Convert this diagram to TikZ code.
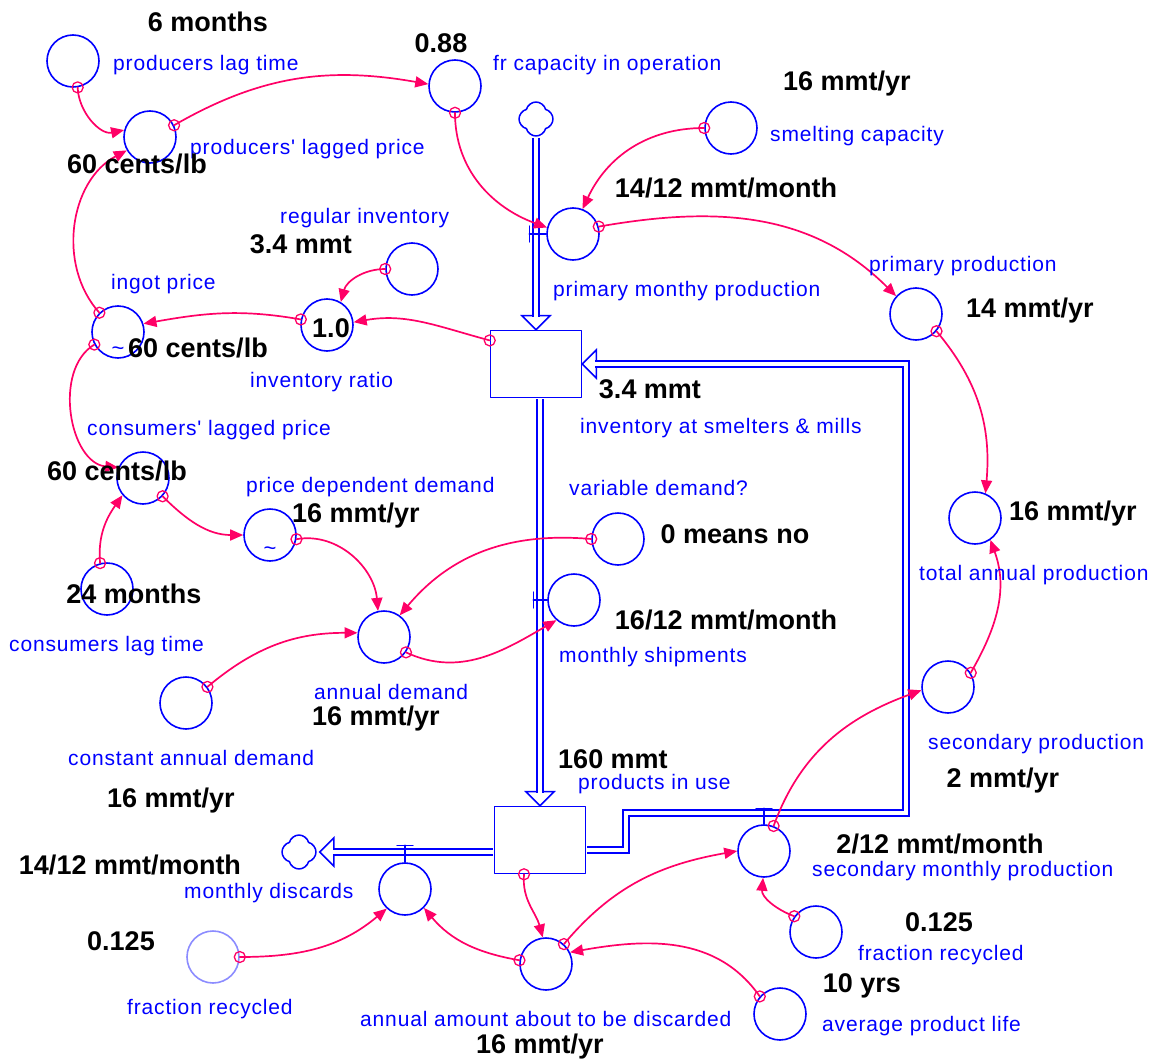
\documentclass[tikz,border=0pt]{standalone}
\usepackage{fontspec}
\setmainfont{Liberation Sans}
\newfontfamily\lblfam[LetterSpace=4]{Liberation Sans}
\usetikzlibrary{arrows.meta,calc,shapes.symbols}
\definecolor{vblue}{RGB}{0,0,255}
\definecolor{vpink}{RGB}{255,0,102}
\definecolor{vlav}{RGB}{140,140,255}

\begin{document}
\begin{tikzpicture}[x=1pt,y=1pt,line join=round,line cap=round,
	aux/.style={circle,draw=vblue,line width=1.6pt,minimum size=52pt,inner sep=0pt},
	lvl/.style={rectangle,draw=vblue,line width=1.6pt,minimum width=91pt,minimum height=67pt,inner sep=0pt},
	cld/.style={cloud,cloud puffs=4,cloud puff arc=150,aspect=1,draw=vblue,line width=1.5pt,minimum size=34pt,inner sep=0pt},
	lbl/.style={anchor=base west,inner sep=0pt,text=vblue,font=\lblfam\fontsize{21}{24}\selectfont},
	val/.style={anchor=base,inner sep=0pt,font=\fontsize{27}{30}\selectfont\bfseries},
	lnk/.style={vpink,line width=1.7pt,-{Triangle[length=13pt,width=11pt]}},
	tl/.style={circle,draw=vpink,line width=1.3pt,minimum size=11pt,inner sep=0pt},
	pipe/.style={draw=vblue,double=white,double distance=4pt,line width=1.6pt,line cap=butt,line join=miter},
	ftip/.style={draw=vblue,fill=white,line width=1.5pt,line join=miter},
	vlv/.style={vblue,line width=1.4pt}]
	\useasboundingbox (0,0) rectangle (1152,-1060);
	% stocks and clouds
	\node[lvl] (inv) at (536,-364) {};
	\node[lvl] (piu) at (540,-840) {};
	\node[cld] (src) at (536,-119) {};
	\node[cld] (snk) at (299,-852) {};
	% auxiliaries
	\node[aux] (plt) at (73,-61) {};
	\node[aux] (plp) at (150,-137) {};
	\node[aux] (frc) at (455,-86) {};
	\node[aux] (smc) at (731,-128) {};
	\node[aux] (pmp) at (573,-234) {};
	\node[aux] (pp) at (916,-314) {};
	\node[aux] (tap) at (975,-518) {};
	\node[aux] (sp) at (948,-687) {};
	\node[aux] (ri) at (412,-269) {};
	\node[aux] (ir) at (327,-325) {};
	\node[aux] (ip) at (118,-332) {};
	\node[aux] (clp) at (143,-478) {};
	\node[aux] (pdd) at (270,-535) {};
	\node[aux] (clt) at (107,-589) {};
	\node[aux] (ad) at (384,-637) {};
	\node[aux] (cad) at (186,-703) {};
	\node[aux] (vd) at (618,-539) {};
	\node[aux] (ms) at (574,-600) {};
	\node[aux] (smp) at (764,-851) {};
	\node[aux] (frr) at (816,-932) {};
	\node[aux] (apl) at (780,-1014) {};
	\node[aux] (aad) at (546,-964) {};
	\node[aux] (md) at (405,-889) {};
	\node[aux,draw=vlav] (frl) at (213,-957) {};
	\node[text=vblue,font=\fontsize{22}{22}\selectfont] (ipt) at (118,-351) {\textasciitilde};
	\node[text=vblue,font=\fontsize{22}{22}\selectfont] (pddt) at (270,-551) {\textasciitilde};
	% flows
	\draw[ftip,shift={(inv.north)}] (0,0) -- (-14,14) -- (14,14) -- cycle;
	\draw[pipe] ($(src.south)+(0,-1)$) -- ($(inv.north)+(0,13)$);
	\draw[ftip,shift={(piu.north)}] (0,0) -- (-14,14) -- (14,14) -- cycle;
	\draw[pipe] ($(inv.south -| piu.north)+(0,-1)$) -- ($(piu.north)+(0,13)$);
	\draw[ftip,shift={(inv.east)}] (0,0) -- (14,14) -- (14,-14) -- cycle;
	\draw[pipe] ($(piu.east)+(1,-10)$) -- (626,-850) -- (626,-813) -- (906,-813) |- ($(inv.east)+(13,0)$);
	\draw[ftip,shift={($(snk.east)+(3,0)$)}] (0,0) -- (14,14) -- (14,-14) -- cycle;
	\draw[pipe] ($(piu.west)+(-1,-12)$) -- ($(snk.east)+(16,0)$);
	% valves
	\draw[vlv] (pmp.west) -- ++(-17,0) ++(0,8) -- ++(0,-16);
	\draw[vlv] (ms.west) -- ++(-14,0) ++(0,8) -- ++(0,-16);
	\draw[vlv] (smp.north) -- ++(0,16) ++(-8,0) -- ++(16,0);
	\draw[vlv] (md.north) -- ++(0,17) ++(-8,0) -- ++(16,0);
	% links
	\draw[lnk] (plt.-80) node[tl]{} to[out=-88,in=192] (plp.165);
	\draw[lnk] (plp.26) node[tl]{} to[out=30,in=170] (frc.176);
	\draw[lnk] (frc.-90) node[tl]{} to[out=-90,in=160] (pmp.166);
	\draw[lnk] (smc.180) node[tl]{} to[out=180,in=65] (pmp.69);
	\draw[lnk] (pmp.16) node[tl]{} to[out=10,in=135] (pp.138);
	\draw[lnk] (pp.-40) node[tl]{} to[out=-50,in=85] (tap.67);
	\draw[lnk] (sp.32) node[tl]{} to[out=60,in=-70] (tap.-55);
	\draw[lnk] (smp.69) node[tl]{} to[out=70,in=200] (sp.187);
	\draw[lnk] (aad.48) node[tl]{} to[out=50,in=190] (smp.180);
	\draw[lnk] (frr.144) node[tl]{} to[out=160,in=-95] (smp.-92);
	\draw[lnk] (apl.139) node[tl]{} to[out=125,in=10] (aad.26);
	\draw[lnk] (piu.-115) node[tl]{} to[out=-95,in=105] (aad.97);
	\draw[lnk] (aad.172) node[tl]{} to[out=170,in=-50] (md.-45);
	\draw[lnk] (frl.0) node[tl]{} to[out=0,in=-140] (md.-133);
	\draw[lnk] (ri.180) node[tl]{} to[out=180,in=75] (ir.59);
	\draw[lnk] (inv.153) node[tl]{} to[out=165,in=10] (ir.6);
	\draw[lnk] (ir.168) node[tl]{} to[out=170,in=10] (ip.18);
	\draw[lnk] (ip.134) node[tl]{} to[out=132,in=208] (plp.210);
	\draw[lnk] (ip.208) node[tl]{} to[out=211,in=175] (clp.157);
	\draw[lnk] (clt.105) node[tl]{} to[out=95,in=235] (clp.220);
	\draw[lnk] (clp.-43) node[tl]{} to[out=-45,in=180] (pdd.180);
	\draw[lnk] (pdd.-9) node[tl]{} to[out=10,in=95] (ad.103);
	\draw[lnk] (vd.180) node[tl]{} to[out=175,in=50] (ad.54);
	\draw[lnk] (cad.37) node[tl]{} to[out=40,in=180] (ad.171);
	\draw[lnk] (ad.-35) node[tl]{} to[out=-25,in=-150] (ms.-131);
	% names
	\node[lbl] at (113,-70) {producers lag time};
	\node[lbl] at (190,-154) {producers' lagged price};
	\node[lbl] at (493,-70) {fr capacity in operation};
	\node[lbl] at (770,-141) {smelting capacity};
	\node[lbl] at (553,-296) {primary monthy production};
	\node[lbl] at (869,-271) {primary production};
	\node[lbl] at (919,-580) {total annual production};
	\node[lbl] at (928,-749) {secondary production};
	\node[lbl] at (280,-223) {regular inventory};
	\node[lbl] at (250,-387) {inventory ratio};
	\node[lbl] at (111,-289) {ingot price};
	\node[lbl] at (87,-435) {consumers' lagged price};
	\node[lbl] at (246,-492) {price dependent demand};
	\node[lbl] at (9,-651) {consumers lag time};
	\node[lbl] at (314,-699) {annual demand};
	\node[lbl] at (68,-765) {constant annual demand};
	\node[lbl] at (569,-495) {variable demand?};
	\node[lbl] at (559,-662) {monthly shipments};
	\node[lbl] at (812,-876) {secondary monthly production};
	\node[lbl] at (858,-960) {fraction recycled};
	\node[lbl] at (822,-1031) {average product life};
	\node[lbl] at (360,-1026) {annual amount about to be discarded};
	\node[lbl] at (184,-898) {monthly discards};
	\node[lbl] at (127,-1014) {fraction recycled};
	\node[lbl] at (580,-433) {inventory at smelters \& mills};
	\node[lbl] at (578,-789) {products in use};
	% values
	\node[val] at (208,-31) {6 months};
	\node[val] at (137,-173) {60 cents/lb};
	\node[val] at (441,-52) {0.88};
	\node[val] at (847,-90) {16 mmt/yr};
	\node[val] at (726,-197) {14/12 mmt/month};
	\node[val] at (1030,-317) {14 mmt/yr};
	\node[val] at (1073,-520) {16 mmt/yr};
	\node[val] at (1003,-787) {2 mmt/yr};
	\node[val] at (301,-253) {3.4 mmt};
	\node[val] at (331,-337) {1.0};
	\node[val] at (198,-357) {60 cents/lb};
	\node[val] at (117,-480) {60 cents/lb};
	\node[val] at (356,-522) {16 mmt/yr};
	\node[val] at (134,-603) {24 months};
	\node[val] at (376,-725) {16 mmt/yr};
	\node[val] at (171,-807) {16 mmt/yr};
	\node[val] at (735,-543) {0 means no};
	\node[val] at (726,-629) {16/12 mmt/month};
	\node[val] at (940,-853) {2/12 mmt/month};
	\node[val] at (939,-931) {0.125};
	\node[val] at (862,-992) {10 yrs};
	\node[val] at (540,-1053) {16 mmt/yr};
	\node[val] at (130,-874) {14/12 mmt/month};
	\node[val] at (121,-950) {0.125};
	\node[val] at (650,-398) {3.4 mmt};
	\node[val] at (613,-768) {160 mmt};
\end{tikzpicture}
\end{document}
